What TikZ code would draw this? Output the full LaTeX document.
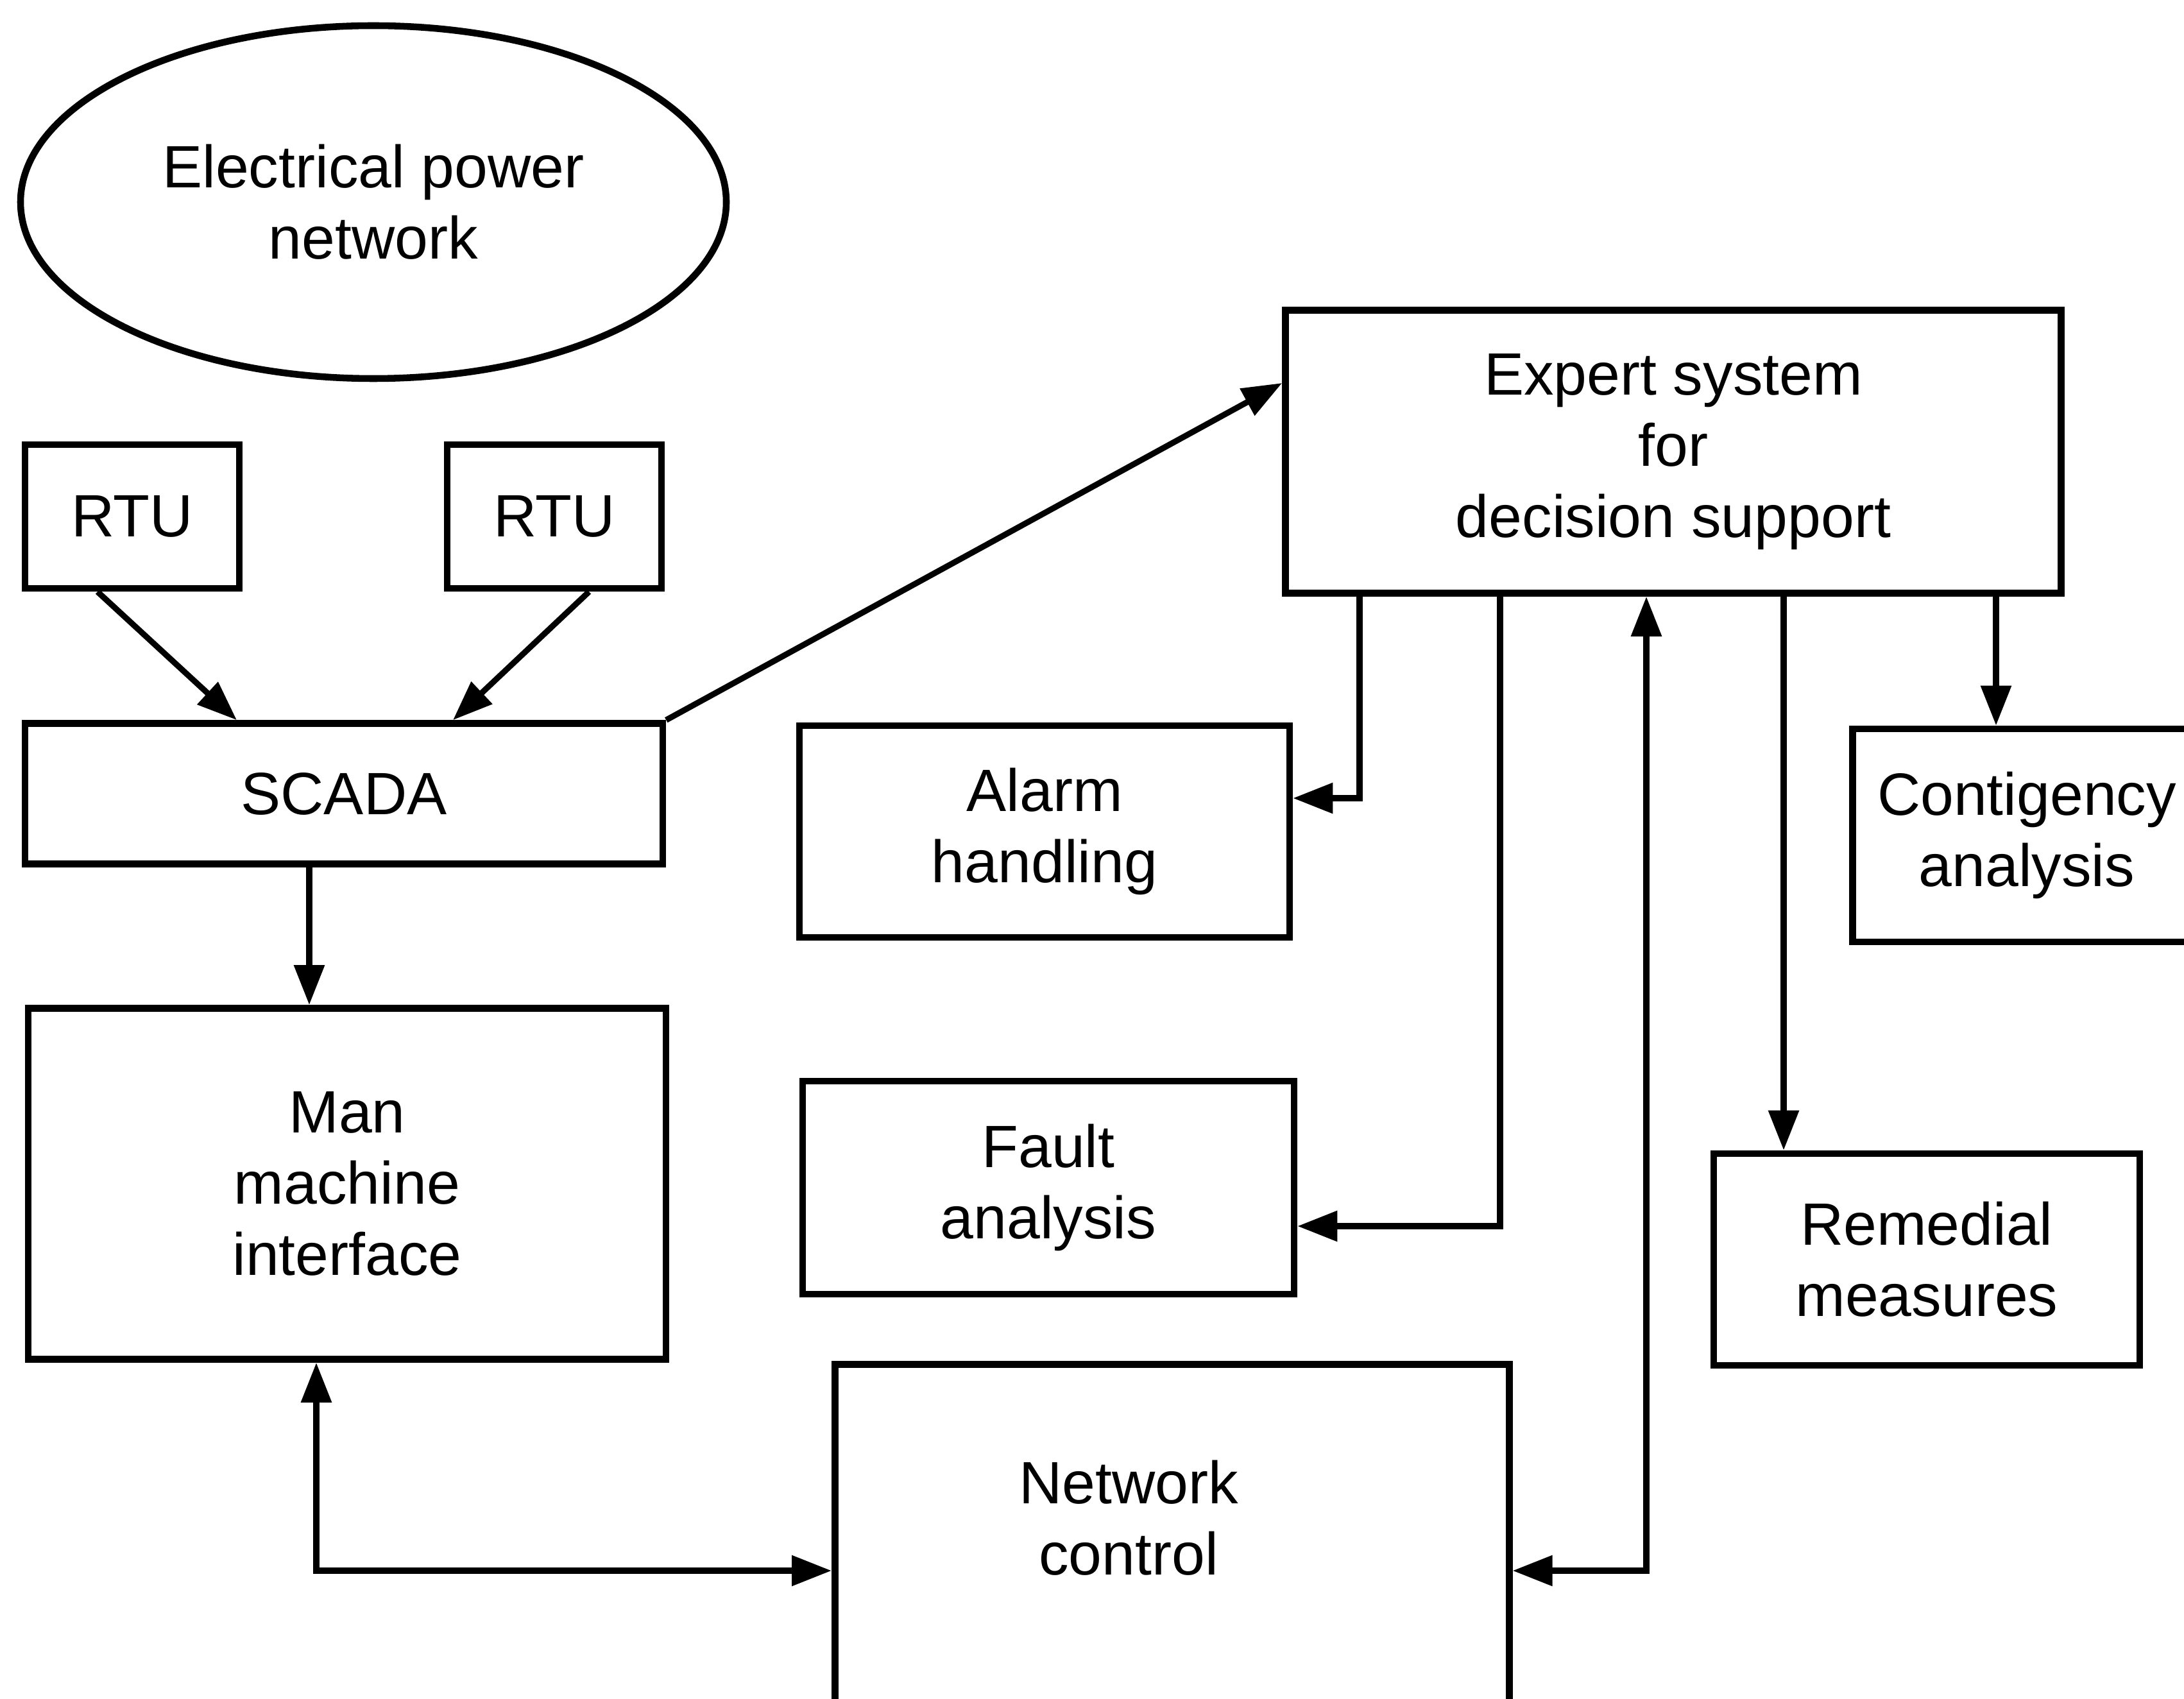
\documentclass[tikz,border=0pt]{standalone}
\usepackage{fontspec}
\setmainfont{Liberation Sans}
\usetikzlibrary{arrows.meta, shapes.geometric}

\begin{document}
\begin{tikzpicture}[
  >={Triangle[length=6.2mm, width=4.6mm]},
  block/.style={
    rectangle, draw, line width=3pt, inner sep=0pt, align=center,
    font=\fontsize{26.5}{31.5}\selectfont
  },
  plant/.style={
    ellipse, draw, line width=3pt, inner sep=0pt, align=center,
    minimum width=11cm, minimum height=5.5cm,
    font=\fontsize{26.5}{31.5}\selectfont
  },
  label/.style={align=center, inner sep=0pt, font=\fontsize{26.5}{31.5}\selectfont},
  flow/.style={->, line width=2.6pt},
  duplex/.style={<->, line width=2.6pt},
]

\clip (0,0) rectangle (34.04,-26.48);

% column / row helpers
\coordinate (colAl) at (21.19, 0);
\coordinate (colFa) at (23.38, 0);
\coordinate (colNc) at (25.66, 0);
\coordinate (colRe) at (27.80, 0);
\coordinate (colCo) at (31.11, 0);
\coordinate (colMm) at (4.93, 0);
\coordinate (colSc) at (4.82, 0);
\coordinate (rowNc) at (0, -24.48);
\coordinate (rowEx) at (0, -5.97);

% left side
\node[plant] (epn) at (5.82, -3.15) {Electrical power\\network};
\node[block, minimum width=3.34cm, minimum height=2.24cm] (rtuA) at (2.06, -8.05) {RTU};
\node[block, minimum width=3.34cm, minimum height=2.24cm] (rtuB) at (8.64, -8.05) {RTU};
\node[block, minimum width=9.94cm, minimum height=2.19cm] (scada) at (5.36, -12.37) {SCADA};
\node[block, minimum width=9.94cm, minimum height=5.47cm] (mmi) at (5.41, -18.45) {Man\\machine\\interface};

% expert system and its tasks
\node[block, minimum width=12.09cm, minimum height=4.41cm] (expert) at (26.08, -7.04) {Expert system\\for\\decision support};
\node[block, minimum width=7.64cm, minimum height=3.30cm] (alarm) at (16.28, -12.96) {Alarm\\handling};
\node[block, minimum width=5.43cm, minimum height=3.32cm] (contig) at (31.59, -13.02) {Contigency\\analysis};
\node[block, minimum width=7.66cm, minimum height=3.32cm] (fault) at (16.34, -18.51) {Fault\\analysis};
\node[block, minimum width=6.64cm, minimum height=3.30cm] (remedy) at (30.03, -19.63) {Remedial\\measures};

% network control (runs off the page)
\node[block, anchor=north west, minimum width=10.51cm, minimum height=6.5cm] (netctl) at (12.96, -21.21) {};
\node[label] (netctlTxt) at (17.59, -23.66) {Network\\control};

% RTUs to SCADA
\draw[flow] ([xshift=-5.4mm]rtuA.south) -- (scada.north -| 3.69,0);
\draw[flow] ([xshift=5.4mm]rtuB.south) -- (scada.north -| 7.06,0);

% SCADA to expert system and MMI
\draw[flow] (scada.north east) -- (expert.west |- rowEx);
\draw[flow] (scada.south -| colSc) -- (mmi.north -| colSc);

% MMI <-> network control
\draw[duplex] (mmi.south -| colMm) |- (netctl.west |- rowNc);

% expert system to its tasks
\draw[flow] (expert.south -| colAl) |- ([yshift=5.2mm]alarm.east);
\draw[flow] (expert.south -| colFa) |- ([yshift=-6mm]fault.east);
\draw[duplex] (expert.south -| colNc) |- (netctl.east |- rowNc);
\draw[flow] (expert.south -| colRe) -- (remedy.north -| colRe);
\draw[flow] (expert.south -| colCo) -- (contig.north -| colCo);

\end{tikzpicture}
\end{document}
